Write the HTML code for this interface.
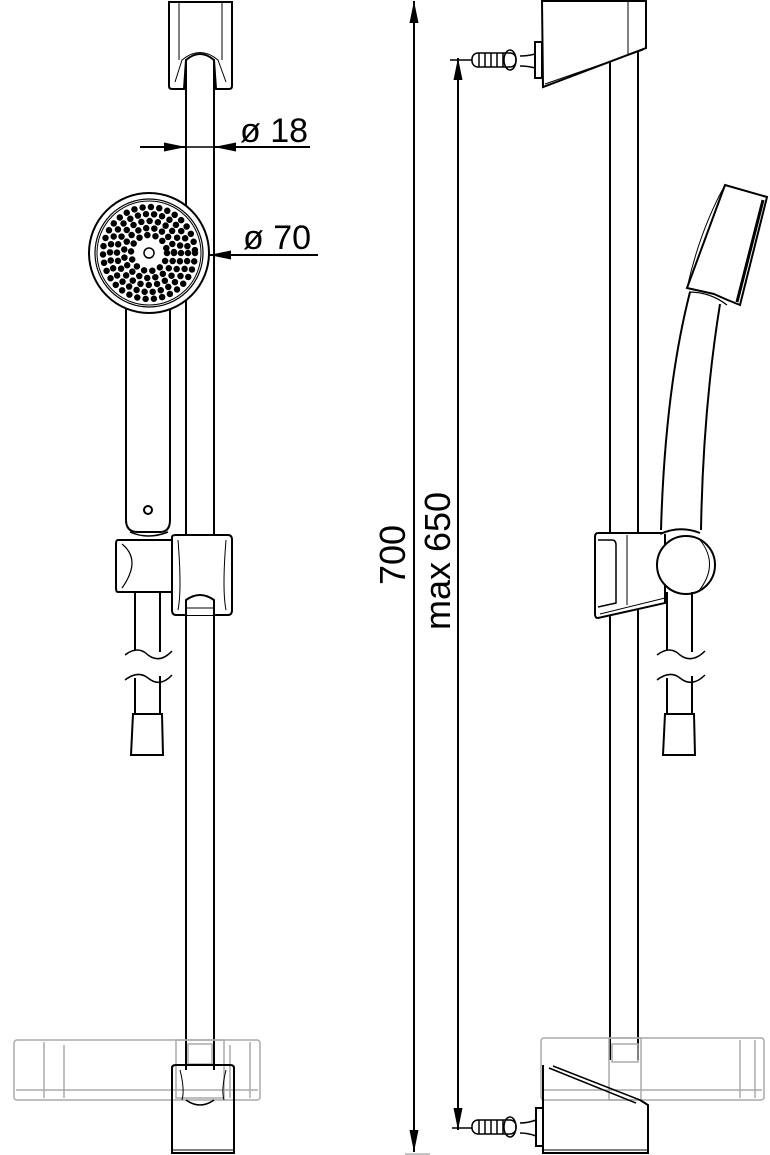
<!DOCTYPE html>
<html><head><meta charset="utf-8"><style>
html,body{margin:0;padding:0;background:#fff;}
svg{display:block;}
text{font-family:"Liberation Sans",sans-serif;fill:#000;}
</style></head><body>
<svg width="770" height="1155" viewBox="0 0 770 1155" xmlns="http://www.w3.org/2000/svg">
<defs>
<marker id="ar2" viewBox="0 0 22 10" refX="22" refY="5" markerWidth="22" markerHeight="10" orient="auto-start-reverse" markerUnits="userSpaceOnUse"><path d="M0,0.5 L22,5 L0,9.5 z" fill="#000"/></marker>
</defs>
<g fill="none" stroke="#000" stroke-width="2">
<!-- LEFT VIEW -->
<line x1="186" y1="58" x2="186" y2="1070"/>
<line x1="214" y1="58" x2="214" y2="1070"/>
<path d="M169,2 H232 V86 Q232,89 229,89 H216 L214,60 Q200,48 186,60 L184,89 H172 Q169,89 169,86 Z" fill="#fff"/>
<line x1="179" y1="3" x2="179" y2="60" stroke-width="1"/>
<line x1="222" y1="3" x2="222" y2="60" stroke-width="1"/>
<path d="M175,82 L182,60 Q200,45 218,60 L226,82" stroke-width="1"/>
<line x1="186" y1="60" x2="186" y2="95"/><line x1="214" y1="60" x2="214" y2="95"/>
<line x1="140" y1="147" x2="186" y2="147" marker-end="url(#ar2)"/>
<line x1="310" y1="147" x2="214" y2="147" marker-end="url(#ar2)"/>
<line x1="186" y1="147" x2="214" y2="147" stroke-width="1.5"/>
<path d="M126,300 V520 Q126,532 138,532 H160 Q170,532 170,520 V300" fill="#fff"/>
<circle cx="148" cy="510" r="4"/>
<circle cx="149" cy="253" r="60" fill="#fff"/>
<circle cx="149" cy="253" r="54" stroke-width="1.2"/>
<circle cx="149" cy="253" r="52" stroke-width="1"/>
<g stroke-width="6.5" stroke-linecap="round">
<circle cx="149" cy="253" r="46" stroke-dasharray="0 8.4"/>
<circle cx="149" cy="253" r="39" stroke-dasharray="0 8.2"/>
<circle cx="149" cy="253" r="32" stroke-dasharray="0 8.4"/>
<circle cx="149" cy="253" r="25" stroke-dasharray="0 8.2"/>
<circle cx="149" cy="253" r="18" stroke-dasharray="0 8.3"/>
</g>
<circle cx="149" cy="253" r="5" stroke-width="1.5"/>
<line x1="318" y1="255" x2="209" y2="255" marker-end="url(#ar2)"/>
<path d="M130,532 Q148,540 168,532" stroke-width="1.5"/>
<path d="M118,540 H172 V592 H118 Q116,592 116,588 V544 Q116,540 118,540 Z" fill="#fff"/>
<path d="M122,544 Q142,560 122,588" stroke-width="1.2"/>
<path d="M172,537 Q172,535 176,535 H228 Q232,535 232,540 V610 Q232,615 228,615 H176 Q172,615 172,610 Z" fill="#fff"/>
<path d="M178,540 Q182,590 178,610 M226,540 Q222,590 226,610" stroke-width="1"/>
<path d="M186,615 V600 Q200,590 214,600 V615" fill="#fff"/>
<line x1="186" y1="608" x2="214" y2="608" stroke-width="1"/>
<path d="M135,592 V650 M160,592 V652 M135,678 V715 M160,676 V715"/>
<path d="M125,655 Q138,645 148,655 Q160,664 172,651" stroke-width="1.5"/>
<path d="M125,680 Q138,670 148,678 Q160,688 172,675" stroke-width="1.5"/>
<path d="M133,714 H162 L163,755 H131 Z" fill="#fff"/>
<g stroke="#aaa" stroke-width="1.5">
<rect x="14" y="1040" width="246" height="60" rx="3"/>
<line x1="16" y1="1090" x2="258" y2="1090"/>
<line x1="44" y1="1042" x2="44" y2="1098"/>
<line x1="64" y1="1045" x2="64" y2="1098"/>
<line x1="230" y1="1045" x2="230" y2="1098"/>
<line x1="250" y1="1042" x2="250" y2="1098"/>
<rect x="176" y="1040" width="48" height="58"/>
<rect x="188" y="1044" width="24" height="20"/>
</g>
<path d="M172,1068 Q172,1065 176,1065 H230 Q234,1065 234,1068 V1153 H172 Z"/>
<path d="M180,1070 Q185,1090 182,1100 M226,1070 Q221,1090 224,1100" stroke-width="1"/>
<path d="M186,1100 Q200,1110 214,1100" stroke-width="1.5"/>
<line x1="172" y1="1150" x2="234" y2="1150" stroke-width="1"/>

<!-- MIDDLE DIMENSIONS -->
<line x1="414" y1="1" x2="414" y2="1152" marker-start="url(#ar2)" marker-end="url(#ar2)"/>
<line x1="458" y1="58" x2="458" y2="1130" marker-start="url(#ar2)" marker-end="url(#ar2)"/>
<line x1="450" y1="60" x2="472" y2="60" stroke-width="1.5"/>
<line x1="452" y1="1128" x2="472" y2="1128" stroke-width="1.5"/>
<line x1="405" y1="1154" x2="430" y2="1154" stroke-width="1" stroke="#888"/>

<!-- RIGHT VIEW -->
<line x1="610" y1="60" x2="610" y2="1060"/>
<line x1="638" y1="48" x2="638" y2="1060"/>
<path d="M542,1 H646 V48 L543,87 Z" fill="#fff"/>
<line x1="628" y1="1" x2="628" y2="54" stroke-width="1"/>
<line x1="545" y1="84" x2="643" y2="50" stroke-width="1"/>
<rect x="535" y="42" width="7" height="36" fill="#fff"/>
<path d="M520,56 Q528,56 535,54 M520,66 Q528,66 535,68" stroke-width="1.5"/>
<g stroke-width="1.5">
<rect x="472" y="53" width="44" height="14" rx="6"/>
<line x1="479" y1="53" x2="479" y2="67"/><line x1="485" y1="53" x2="485" y2="67"/><line x1="491" y1="53" x2="491" y2="67"/><line x1="497" y1="53" x2="497" y2="67"/><line x1="503" y1="53" x2="503" y2="67"/>
<ellipse cx="510" cy="60" rx="6" ry="10"/>
</g>
<path d="M725,185 L767,197 L740,305 Q727,300 714,294 L687,288 Z" fill="#fff"/>
<path d="M687,288 Q700,230 725,185" stroke-width="1"/>
<path d="M763,200 L737,302" stroke-width="3"/>
<path d="M689,292 Q710,292 727,305" stroke-width="1.2"/>
<path d="M690,292 Q665,390 661,530"/>
<path d="M720,304 Q703,410 701,530"/>
<path d="M598,533 H665 V603 L598,618 Q595,618 595,614 V537 Q595,533 598,533 Z" fill="#fff"/>
<path d="M598,540 H612 Q616,540 616,545 V603 L598,607" stroke-width="1.5"/>
<line x1="627" y1="535" x2="627" y2="605" stroke-width="1"/>
<path d="M600,614 L665,598" stroke-width="1"/>
<path d="M660,534 Q680,525 700,533" fill="#fff"/>
<circle cx="686" cy="565" r="29" fill="#fff"/>
<path d="M700,540 Q720,565 698,592" stroke-width="1"/>
<path d="M667,592 V650 M692,592 V652 M667,678 V715 M692,676 V715"/>
<path d="M657,655 Q670,645 680,655 Q692,664 705,651" stroke-width="1.5"/>
<path d="M657,680 Q670,670 680,678 Q692,688 705,675" stroke-width="1.5"/>
<path d="M665,714 H694 L695,755 H663 Z" fill="#fff"/>
<g stroke="#aaa" stroke-width="1.5">
<rect x="541" y="1038" width="223" height="62" rx="3"/>
<line x1="543" y1="1090" x2="762" y2="1090"/>
<line x1="740" y1="1040" x2="740" y2="1098"/>
<line x1="755" y1="1040" x2="755" y2="1098"/>
<rect x="609" y="1038" width="32" height="62"/>
<rect x="612" y="1044" width="26" height="18"/>
</g>
<path d="M543,1065 V1153 H648 V1105 L640,1100"/>
<path d="M553,1066 L640,1100 M549,1068 L636,1103" stroke-width="1.5"/>
<line x1="543" y1="1150" x2="648" y2="1150" stroke-width="1"/>
<rect x="536" y="1108" width="7" height="38" fill="#fff"/>
<path d="M520,1123 Q528,1123 536,1120 M520,1133 Q528,1133 536,1136" stroke-width="1.5"/>
<g stroke-width="1.5">
<rect x="472" y="1120" width="44" height="14" rx="6"/>
<line x1="479" y1="1120" x2="479" y2="1134"/><line x1="485" y1="1120" x2="485" y2="1134"/><line x1="491" y1="1120" x2="491" y2="1134"/><line x1="497" y1="1120" x2="497" y2="1134"/><line x1="503" y1="1120" x2="503" y2="1134"/>
<ellipse cx="510" cy="1127" rx="6" ry="10"/>
</g>
</g>
<text x="240" y="142" font-size="34">ø 18</text>
<text x="243" y="249" font-size="34">ø 70</text>
<text transform="translate(405,555) rotate(-90)" font-size="36" text-anchor="middle">700</text>
<text transform="translate(450,561) rotate(-90)" font-size="36" text-anchor="middle">max 650</text>
</svg>
</body></html>
